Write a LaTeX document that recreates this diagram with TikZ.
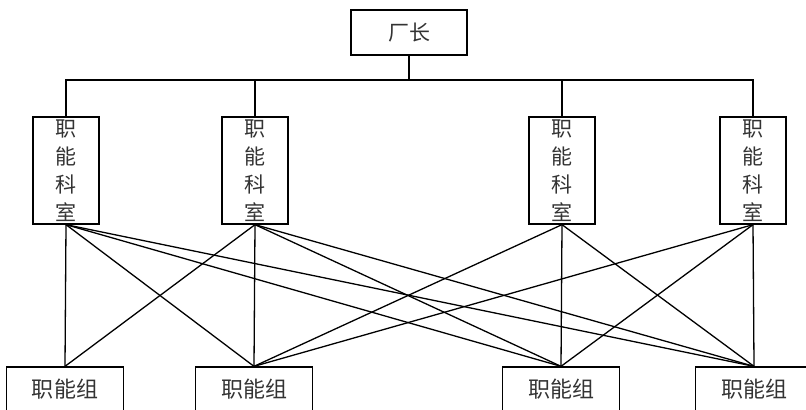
\documentclass[tikz,border=0pt]{standalone}
\usepackage{fontspec}
\newfontfamily\cjk{Noto Sans CJK SC}
\usetikzlibrary{positioning}

\begin{document}
\begin{tikzpicture}[x=0.5pt,y=-0.5pt,line width=0.65pt,font=\cjk]
\tikzstyle{b}=[draw,inner sep=0pt,text=black!80]
\tikzstyle{ks}=[b,minimum width=33pt,minimum height=53.5pt,align=center,font=\cjk\fontsize{10.5pt}{14pt}\selectfont]
\tikzstyle{zu}=[b,minimum width=58.5pt,minimum height=24pt,font=\cjk\fontsize{11pt}{13pt}\selectfont]
\useasboundingbox (0,0) rectangle (806,410);
\clip (0,0) rectangle (806,410);
% top
\node[b,minimum width=58pt,minimum height=22.5pt,font=\cjk\fontsize{10.5pt}{13pt}\selectfont] (cz) at (409,32.5) {厂长};
\coordinate (bus) at (409,80);
% offices
\node[ks] (s1) at (66,170.5) {职\\能\\科\\室};
\node[ks] (s2) at (255,170.5) {职\\能\\科\\室};
\node[ks] (s3) at (562,170.5) {职\\能\\科\\室};
\node[ks] (s4) at (753,170.5) {职\\能\\科\\室};
% groups
\node[zu] (g1) at (65,391) {\raisebox{2.5pt}{职能组}};
\node[zu] (g2) at (254,391) {\raisebox{2.5pt}{职能组}};
\node[zu] (g3) at (561,391) {\raisebox{2.5pt}{职能组}};
\node[zu] (g4) at (754,391) {\raisebox{2.5pt}{职能组}};
% tree
\draw (cz.south) -- (bus);
\draw (s1.north) |- (bus) -| (s4.north);
\draw (s2.north) -- (s2.north |- bus);
\draw (s3.north) -- (s3.north |- bus);
% cross links
\foreach \s/\g in {s1/g1,s1/g2,s1/g3,s1/g4,s2/g1,s2/g2,s2/g3,s2/g4,s3/g2,s3/g3,s3/g4,s4/g2,s4/g3,s4/g4}
  \draw (\s.south) -- (\g.north);
\end{tikzpicture}
\end{document}
